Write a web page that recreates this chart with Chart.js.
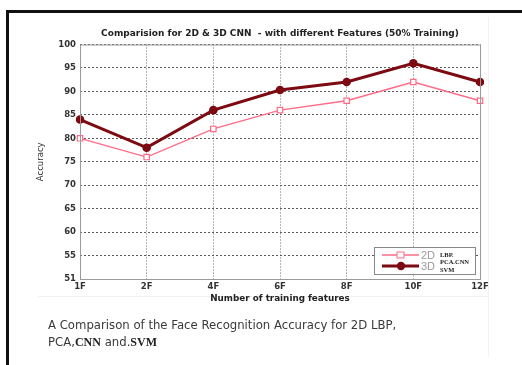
<!DOCTYPE html>
<html>
<head>
<meta charset="utf-8">
<script src="https://cdn.jsdelivr.net/npm/chart.js@4"></script>
<style>
  html, body { margin: 0; padding: 0; background: #fff; }
  #wrap { position: relative; width: 522px; height: 365px; overflow: hidden; }
  #frame { position: absolute; left: 6px; top: 10px; width: 520px; height: 360px;
           border-left: 3px solid #111; border-top: 3px solid #111; }
  #panelR { position: absolute; left: 488px; top: 17px; width: 1px; height: 340px; background: #f2f2f2; }
  #panelB { position: absolute; left: 38px; top: 296px; width: 450px; height: 1px; background: #f0f0f0; }
  canvas { position: absolute; left: 0; top: 0; }
  #caption { position: absolute; left: 48px; top: 317px; font-family: "DejaVu Sans", sans-serif;
             font-size: 11.7px; line-height: 17px; color: #3a3a3a; }
  #caption b { font-family: "Liberation Serif", serif; font-weight: bold; color: #222; font-size: 12px; }
</style>
</head>
<body>
<div id="wrap">
  <div id="frame"></div>
  <div id="panelR"></div>
  <div id="panelB"></div>
  <canvas id="c" width="522" height="365"></canvas>
  <div id="caption">A Comparison of the Face Recognition Accuracy for 2D LBP,<br>PCA,<b>CNN</b> and.<b>SVM</b></div>
</div>
<script>
const categories = ["1F", "2F", "4F", "6F", "8F", "10F", "12F"];
const series2D = [80, 76, 82, 86, 88, 92, 88];
const series3D = [84, 78, 86, 90.3, 92, 96, 92];
const yTicks = [50, 55, 60, 65, 70, 75, 80, 85, 90, 95, 100];
const yTickLabels = ["51", "55", "60", "65", "70", "75", "80", "85", "90", "95", "100"];

const PINK = "#ff6b86";
const DARK = "#7d0a12";
const FONT = "DejaVu Sans";

// box round the plot + legend drawn in the lower right corner
const boxAndLegend = {
  id: "boxAndLegend",
  afterDatasetsDraw(chart) {
    const { ctx, chartArea: a } = chart;
    ctx.save();
    ctx.strokeStyle = "#9a9a9a";
    ctx.lineWidth = 1;
    ctx.strokeRect(a.left + 0.5, a.top + 0.5, a.right - a.left, a.bottom - a.top);

    // legend
    const lx = a.right - 106, ly = a.bottom - 32, lw = 101, lh = 27;
    ctx.fillStyle = "#fff";
    ctx.fillRect(lx, ly, lw, lh);
    ctx.strokeStyle = "#888";
    ctx.strokeRect(lx + 0.5, ly + 0.5, lw, lh);

    const ds = chart.data.datasets;
    const rows = [ly + 8, ly + 19];
    ds.forEach((d, i) => {
      const y = rows[i];
      ctx.strokeStyle = d.borderColor;
      ctx.lineWidth = d.borderWidth;
      ctx.beginPath();
      ctx.moveTo(lx + 8, y);
      ctx.lineTo(lx + 45, y);
      ctx.stroke();
      if (d.pointStyle === "rect") {
        ctx.fillStyle = "#fff";
        ctx.lineWidth = 1;
        ctx.fillRect(lx + 23, y - 3, 7, 6);
        ctx.strokeRect(lx + 23, y - 3, 7, 6);
      } else {
        ctx.fillStyle = d.borderColor;
        ctx.beginPath();
        ctx.arc(lx + 27, y, 4.2, 0, Math.PI * 2);
        ctx.fill();
      }
      ctx.fillStyle = "#9a9a9a";
      ctx.font = "11px 'Liberation Sans'";
      ctx.textBaseline = "middle";
      ctx.fillText(d.label, lx + 47, y + 0.5);
    });
    ctx.fillStyle = "#222";
    ctx.font = "bold 6.5px 'Liberation Serif'";
    ctx.fillText("LBP.", lx + 66, rows[0]);
    ctx.fillText("PCA.CNN", lx + 66, rows[1] - 4);
    ctx.fillText("SVM", lx + 66, rows[1] + 4);
    ctx.restore();
  }
};

new Chart(document.getElementById("c"), {
  type: "line",
  data: {
    labels: categories,
    datasets: [
      {
        label: "2D",
        data: series2D,
        borderColor: PINK,
        backgroundColor: "#fff",
        borderWidth: 1.4,
        pointStyle: "rect",
        pointRadius: 3.8,
        pointBorderWidth: 1.2,
        pointBorderColor: PINK,
        pointBackgroundColor: "#fff",
        tension: 0,
      },
      {
        label: "3D",
        data: series3D,
        borderColor: DARK,
        backgroundColor: DARK,
        borderWidth: 3,
        pointStyle: "circle",
        pointRadius: 4.3,
        pointBorderWidth: 0,
        pointBackgroundColor: DARK,
        tension: 0,
      },
    ],
  },
  options: {
    responsive: false,
    animation: false,
    layout: { padding: { left: 30, right: 42, top: 28, bottom: 61 } },
    plugins: {
      legend: { display: false },
      tooltip: { enabled: false },
      title: {
        display: true,
        fullSize: false,
        text: "Comparision for 2D & 3D CNN  - with different Features (50% Training)",
        color: "#222",
        font: { family: FONT, size: 9, weight: "bold" },
        padding: { top: 0, bottom: 5.7 },
      },
    },
    scales: {
      x: {
        type: "category",
        offset: false,
        grid: { offset: false, color: "#6f6f6f", drawTicks: false },
        border: { display: false, dash: [1, 2] },
        ticks: {
          color: "#333",
          padding: 3,
          maxRotation: 0,
          font: { family: FONT, size: 8.5, weight: "bold" },
        },
        title: {
          display: true,
          text: "Number of training features",
          color: "#222",
          font: { family: FONT, size: 8.8, weight: "bold" },
          padding: { top: 0, bottom: 0 },
        },
        afterFit: (s) => { s.height = 25; },
      },
      y: {
        min: 50,
        max: 100,
        grid: { color: "#5a5a5a", drawTicks: false },
        border: { display: false, dash: [2, 2] },
        afterBuildTicks: (s) => { s.ticks = yTicks.map((v) => ({ value: v })); },
        ticks: {
          color: "#333",
          padding: 4,
          font: { family: FONT, size: 8.5, weight: "bold" },
          callback: (v) => yTickLabels[yTicks.indexOf(v)],
        },
        title: {
          display: true,
          text: "Accuracy",
          color: "#333",
          font: { family: FONT, size: 8.5 },
          padding: { top: 6, bottom: 0 },
        },
        afterFit: (s) => { s.width = 50; },
      },
    },
  },
  plugins: [boxAndLegend],
});
</script>
</body>
</html>
